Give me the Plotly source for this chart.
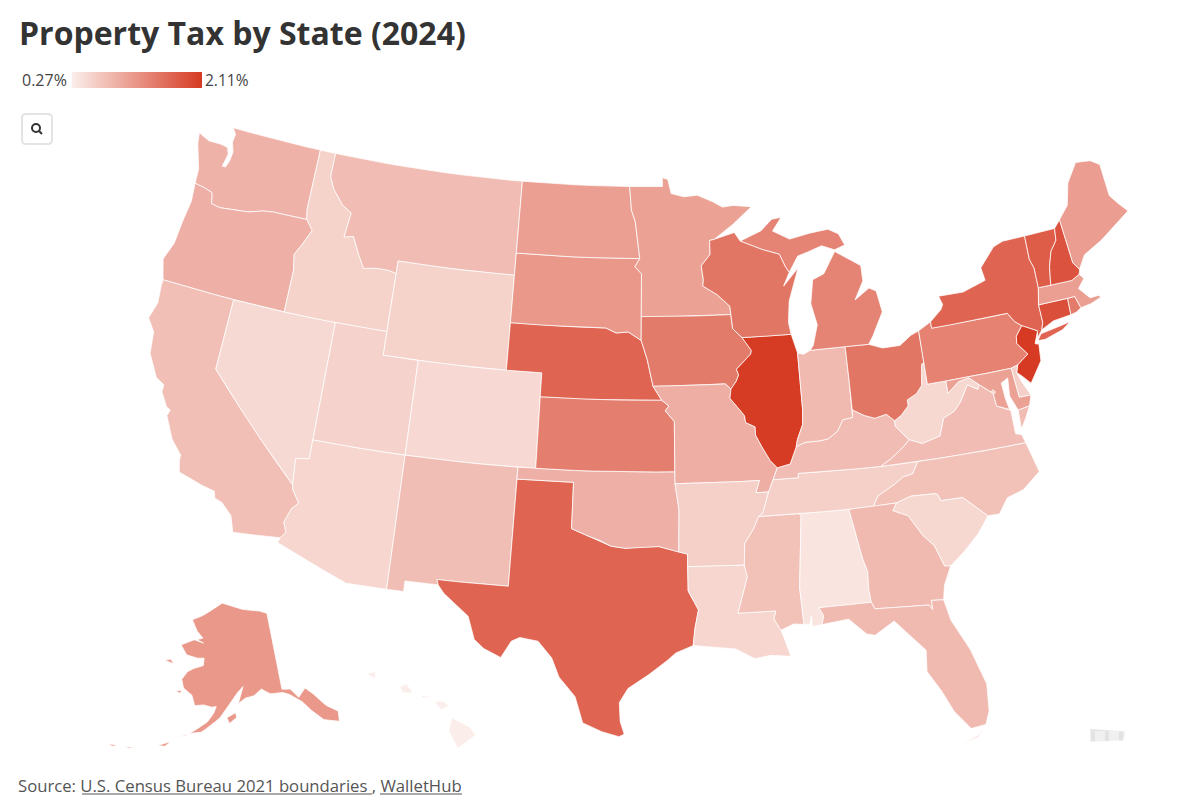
import math
import plotly.graph_objects as go

# ---- chart values (estimated from the map colours; only the legend ends are printed in the reference) ----
states = ["AL","AK","AZ","AR","CA","CO","CT","DE","DC","FL","GA","HI","ID","IL","IN","IA","KS","KY","LA","ME","MD","MA","MI","MN","MS","MO","MT","NE","NV","NH","NJ","NM","NY","NC","ND","OH","OK","OR","PA","RI","SC","SD","TN","TX","UT","VT","VA","WA","WV","WI","WY"]
rates = [0.37,1.15,0.52,0.58,0.75,0.49,1.90,0.58,0.57,0.80,0.80,0.27,0.56,2.09,0.80,1.45,1.40,0.78,0.52,1.10,1.05,1.08,1.35,1.05,0.72,0.92,0.78,1.68,0.48,1.85,2.11,0.76,1.68,0.72,1.08,1.50,0.90,0.90,1.37,1.45,0.50,1.15,0.58,1.68,0.55,1.75,0.78,0.88,0.50,1.50,0.56]
title = "Property Tax by State (2024)"
legend_low = "0.27%"
legend_high = "2.11%"
source_label = "Source: U.S. Census Bureau 2021 boundaries , WalletHub"
low_color = (251, 238, 234)
high_color = (214, 58, 34)

# ---- hand-approximated state outlines (lon, lat): no boundary data is available offline ----
OH_WV = [(-80.52,40.64),(-80.66,40.58),(-80.85,39.7),(-81.2,39.4),(-81.75,39.2),(-81.75,38.95),(-82.2,38.6),(-82.6,38.42)]
OH_KY = [(-82.6,38.42),(-83.0,38.73),(-83.65,38.63),(-84.2,38.8),(-84.82,39.1)]
IN_KY = [(-84.82,39.1),(-84.85,38.78),(-85.4,38.73),(-85.75,38.27),(-86.3,38.0),(-86.8,37.95),(-87.55,37.95),(-88.05,37.8)]
IL_KY = [(-88.05,37.8),(-88.45,37.1),(-89.15,36.98)]
MN_WI = [(-92.0,46.7),(-92.29,46.66),(-92.29,46.07),(-92.85,45.6),(-92.75,45.0),(-92.8,44.75),(-91.95,44.35),(-91.25,43.85),(-91.22,43.5)]
IA_WI = [(-91.22,43.5),(-91.15,42.9),(-90.64,42.51)]
IA_IL = [(-90.64,42.51),(-90.15,41.95),(-90.2,41.8),(-91.05,41.2),(-90.95,40.95),(-91.1,40.7),(-91.42,40.38)]
MO_IL = [(-91.42,40.38),(-91.5,40.0),(-90.75,39.25),(-90.7,38.95),(-90.2,38.75),(-90.2,38.4),(-89.9,37.9),(-89.5,37.3),(-89.15,36.98)]
AR_MS = [(-90.3,35.0),(-90.6,34.5),(-91.1,33.9),(-91.17,33.0)]
LA_MS = [(-91.17,33.0),(-91.05,32.5),(-91.6,31.0),(-89.73,31.0),(-89.85,30.67),(-89.55,30.18)]
AZ_CA = [(-114.72,32.72),(-114.5,33.0),(-114.7,33.4),(-114.45,34.0),(-114.14,34.3),(-114.57,34.8),(-114.63,35.0)]
ID_MT = [(-116.05,48.0),(-115.7,47.5),(-114.95,46.9),(-114.35,46.65),(-114.5,45.6),(-113.95,45.7),(-113.45,45.0),(-113.0,44.45),(-112.3,44.55),(-111.5,44.55),(-111.05,44.47)]
OR_ID = [(-116.92,46.0),(-116.46,45.6),(-116.85,44.95),(-117.2,44.45),(-117.03,43.8),(-117.03,42.0)]
TX_OK = [(-100.0,34.56),(-99.2,34.3),(-98.5,34.1),(-97.95,33.88),(-97.2,33.8),(-96.6,33.85),(-95.5,33.88),(-94.48,33.64)]
MO_KS = [(-94.62,37.0),(-94.61,39.1),(-95.1,39.55),(-94.9,39.75),(-95.3,40.0)]
NE_IA = [(-95.77,40.58),(-95.9,41.0),(-96.1,41.7),(-96.45,42.5)]
NE_SD = [(-96.45,42.5),(-97.2,42.85),(-97.9,42.8),(-98.5,43.0),(-104.05,43.0)]
VA_WV = [(-77.72,39.32),(-77.83,39.13),(-78.35,39.4),(-78.87,38.77),(-79.3,38.42),(-79.95,38.2),(-80.3,37.5),(-81.3,37.3),(-81.97,37.54)]
KY_VA = [(-83.68,36.6),(-83.1,36.85),(-82.3,37.3),(-81.97,37.54)]
TN_NC = [(-81.68,36.59),(-82.05,36.12),(-82.6,36.03),(-83.1,35.77),(-84.0,35.4),(-84.32,34.99)]
NC_SC = [(-83.11,35.0),(-82.3,35.2),(-81.05,35.15),(-80.93,35.1),(-80.8,34.82),(-79.67,34.8),(-78.55,33.86)]
GA_SC = [(-83.11,35.0),(-83.35,34.7),(-82.6,34.4),(-82.0,33.5),(-81.5,33.0),(-81.15,32.1),(-80.85,32.05)]
AL_GA = [(-85.6,34.98),(-85.18,32.87),(-85.0,32.3),(-85.05,31.55),(-85.0,31.0)]
FL_GA = [(-85.0,31.0),(-84.86,30.71),(-82.2,30.57),(-82.05,30.36),(-82.05,30.75),(-81.45,30.7)]
IN_IL = [(-87.53,41.7),(-87.53,39.35),(-87.6,38.7),(-87.95,38.1),(-88.05,37.8)]
WI_UP = [(-90.42,46.57),(-89.1,46.15),(-88.1,45.9),(-87.8,45.35),(-87.6,45.1)]
PA_NY = [(-79.76,42.0),(-75.35,42.0),(-75.05,41.6),(-74.7,41.36)]
PA_NJ = [(-74.7,41.36),(-75.13,40.98),(-75.2,40.68),(-74.72,40.15),(-75.4,39.8)]
VT_NH = [(-71.5,45.0),(-71.6,44.5),(-72.05,44.1),(-72.35,43.5),(-72.55,42.73)]
NY_VT = [(-73.35,45.0),(-73.4,44.0),(-73.25,43.6),(-73.28,42.75)]
MD_POT = [(-77.0,38.3),(-77.05,38.85),(-77.72,39.32)]
def r(s): return s[::-1]

outlines = {
"WA": [[(-122.76,49.0),(-122.5,48.75),(-122.55,48.4),(-122.35,48.0),(-122.4,47.6),(-122.55,47.3),(-122.75,47.3),(-122.6,47.85),(-122.75,48.12),(-123.2,48.18),(-124.0,48.17),(-124.72,48.38),(-124.6,47.9),(-124.3,47.3),(-124.1,46.9),(-124.05,46.28),(-123.4,46.2),(-122.9,46.1),(-122.75,45.65),(-122.2,45.58),(-121.2,45.65),(-120.5,45.72),(-119.6,45.92),(-119.0,45.98),(-116.92,46.0),(-117.04,46.42),(-117.04,49.0)]],
"OR": [[(-124.05,46.28),(-123.4,46.2),(-122.9,46.1),(-122.75,45.65),(-122.2,45.58),(-121.2,45.65),(-120.5,45.72),(-119.6,45.92),(-119.0,45.98)]+OR_ID+[(-124.2,42.0),(-124.55,42.84),(-124.2,43.6),(-124.1,44.6),(-123.95,45.5)]],
"CA": [[(-124.2,42.0),(-120.0,42.0),(-120.0,39.0)]+r(AZ_CA)+[(-117.12,32.53),(-117.25,32.85),(-117.4,33.2),(-118.0,33.65),(-118.4,33.75),(-118.5,34.03),(-119.2,34.15),(-120.5,34.45),(-120.65,34.95),(-120.65,35.15),(-121.3,35.7),(-121.9,36.6),(-121.8,36.85),(-122.05,36.95),(-122.5,37.5),(-122.5,37.8),(-123.0,38.0),(-123.7,38.9),(-123.85,39.8),(-124.35,40.3),(-124.1,41.0),(-124.2,41.75)]],
"NV": [[(-120.0,42.0),(-114.04,42.0),(-114.04,36.2),(-114.75,36.1),(-114.63,35.0),(-120.0,39.0)]],
"ID": [[(-117.04,49.0),(-116.05,49.0)]+ID_MT+[(-111.05,42.0),(-117.03,42.0),(-117.03,43.8),(-117.2,44.45),(-116.85,44.95),(-116.46,45.6),(-116.92,46.0),(-117.04,46.42)]],
"MT": [[(-116.05,49.0),(-104.05,49.0),(-104.05,45.0),(-111.05,45.0)]+r(ID_MT)],
"WY": [[(-111.05,45.0),(-104.05,45.0),(-104.05,41.0),(-111.05,41.0)]],
"UT": [[(-114.04,42.0),(-111.05,42.0),(-111.05,41.0),(-109.05,41.0),(-109.05,37.0),(-114.04,37.0)]],
"AZ": [[(-114.04,37.0),(-109.05,37.0),(-109.05,31.33),(-111.07,31.33),(-114.81,32.5)]+AZ_CA+[(-114.75,36.1),(-114.04,36.2)]],
"CO": [[(-109.05,41.0),(-102.05,41.0),(-102.05,37.0),(-109.05,37.0)]],
"NM": [[(-109.05,37.0),(-103.0,37.0),(-103.04,32.0),(-106.62,32.0),(-106.53,31.78),(-108.2,31.78),(-108.2,31.33),(-109.05,31.33)]],
"TX": [[(-103.0,36.5),(-100.0,36.5)]+TX_OK+[(-94.04,33.55),(-94.04,33.02),(-94.04,32.0),(-93.55,31.2),(-93.75,30.4),(-93.85,29.7),(-94.7,29.4),(-95.1,29.1),(-96.0,28.5),(-97.0,27.9),(-97.4,27.3),(-97.35,26.5),(-97.15,25.96),(-97.4,25.85),(-98.2,26.05),(-99.1,26.4),(-99.5,27.5),(-100.3,28.3),(-100.7,29.1),(-101.4,29.77),(-102.3,29.88),(-102.7,29.7),(-103.15,28.98),(-104.0,29.3),(-104.5,29.65),(-104.9,30.6),(-106.2,31.45),(-106.53,31.78),(-106.62,32.0),(-103.04,32.0)]],
"OK": [[(-103.0,37.0),(-94.62,37.0),(-94.62,36.5),(-94.43,35.4)]+r(TX_OK)+[(-100.0,36.5),(-103.0,36.5)]],
"KS": [[(-102.05,40.0),(-95.3,40.0)]+r(MO_KS)+[(-102.05,37.0)]],
"NE": [[(-104.05,43.0)]+r(NE_SD)+r(NE_IA)+[(-95.3,40.0),(-102.05,40.0),(-102.05,41.0),(-104.05,41.0)]],
"SD": [[(-104.05,45.94),(-96.56,45.94),(-96.85,45.6),(-96.45,45.3),(-96.45,43.5)]+NE_SD],
"ND": [[(-104.05,49.0),(-97.23,49.0),(-97.1,48.0),(-96.85,47.5),(-96.56,45.94),(-104.05,45.94)]],
"MN": [[(-97.23,49.0),(-95.15,49.0),(-95.15,49.38),(-94.8,49.3),(-94.6,48.7),(-93.8,48.55),(-92.95,48.6),(-92.0,48.3),(-91.4,48.05),(-90.75,48.1),(-89.6,48.0),(-90.8,47.3)]+MN_WI+[(-96.45,43.5),(-96.45,45.3),(-96.85,45.6),(-96.56,45.94),(-96.85,47.5),(-97.1,48.0)]],
"IA": [[(-96.45,43.5)]+IA_WI+IA_IL+[(-91.73,40.61)]+NE_IA],
"MO": [[(-95.77,40.58),(-91.73,40.61)]+MO_IL+[(-89.42,36.5),(-89.7,36.0),(-90.37,36.0),(-90.15,36.5),(-94.62,36.5)]+MO_KS],
"AR": [[(-94.62,36.5),(-90.15,36.5),(-90.37,36.0),(-89.7,36.0),(-90.07,35.13)]+AR_MS+[(-94.04,33.02),(-94.04,33.55),(-94.48,33.64),(-94.43,35.4)]],
"LA": [[(-94.04,33.02)]+LA_MS+[(-89.4,29.8),(-89.15,29.05),(-90.1,29.15),(-90.9,29.05),(-91.8,29.5),(-92.3,29.55),(-93.85,29.7),(-93.75,30.4),(-93.55,31.2),(-94.04,32.0)]],
"MS": [[(-90.3,35.0),(-88.2,35.0),(-88.1,34.9),(-88.47,31.9),(-88.4,30.35),(-88.9,30.4)]+r(LA_MS)+r(AR_MS)],
"AL": [[(-88.2,35.0)]+AL_GA+[(-87.6,31.0),(-87.4,30.65),(-87.52,30.28),(-88.0,30.23),(-88.0,30.7),(-88.1,30.35),(-88.4,30.35),(-88.47,31.9),(-88.1,34.9)]],
"TN": [[(-90.3,35.0),(-90.07,35.13),(-89.7,36.0),(-89.42,36.5),(-88.07,36.5),(-88.07,36.68),(-83.68,36.6)]+TN_NC+[(-85.6,34.98),(-88.2,35.0)]],
"KY": [[(-89.42,36.5),(-88.07,36.5),(-88.07,36.68)]+KY_VA+[(-82.6,38.17)]+OH_KY+IN_KY+IL_KY],
"WV": [OH_WV+[(-82.6,38.17)]+r(VA_WV)+[(-78.2,39.68),(-78.8,39.6),(-79.48,39.2),(-79.48,39.72),(-80.52,39.72)]],
"VA": [[(-83.68,36.6),(-81.68,36.59),(-75.87,36.55),(-76.0,36.92),(-76.3,37.0),(-76.3,37.55),(-76.3,38.0)]+MD_POT[:-1]+VA_WV+r(KY_VA)[1:], [(-75.25,38.03),(-75.9,37.95),(-75.95,37.15),(-75.6,37.55)]],
"NC": [[(-84.32,34.99)]+r(TN_NC)[1:]+[(-75.87,36.55),(-75.5,35.25),(-76.5,34.65),(-77.4,34.45),(-77.95,33.85)]+r(NC_SC)],
"SC": [NC_SC+[(-79.2,33.2),(-80.0,32.6)]+r(GA_SC)],
"GA": [[(-85.6,34.98),(-84.32,34.99)]+GA_SC+[(-81.3,31.3)]+r(FL_GA)+r(AL_GA)],
"FL": [[(-87.6,31.0)]+FL_GA+[(-81.25,29.8),(-80.55,28.45),(-80.05,26.9),(-80.15,25.75),(-80.4,25.2),(-81.1,25.13),(-81.75,25.95),(-82.2,26.9),(-82.75,27.8),(-82.65,28.7),(-83.4,29.5),(-84.0,30.1),(-85.0,29.6),(-85.4,29.7),(-86.2,30.4),(-87.52,30.28),(-87.4,30.65)], [(-80.4,25.15),(-80.9,24.75),(-81.7,24.55),(-80.9,24.7)]],
"IL": [[(-90.64,42.51),(-87.8,42.5)]+IN_IL+IL_KY+r(MO_IL)+r(IA_IL)],
"IN": [[(-87.53,41.7),(-87.2,41.62),(-86.8,41.76),(-84.8,41.76),(-84.8,40.4)]+IN_KY+r(IN_IL)],
"OH": [[(-84.8,41.76),(-83.45,41.73),(-82.7,41.5),(-81.7,41.5),(-81.0,41.85),(-80.52,41.98)]+OH_WV+OH_KY+[(-84.8,40.4)]],
"MI": [[(-86.8,41.76),(-84.8,41.76),(-83.45,41.73),(-83.15,42.05),(-82.42,43.0),(-82.6,43.9),(-83.0,44.07),(-83.9,43.65),(-83.3,44.4),(-83.3,45.05),(-84.75,45.78),(-85.1,45.4),(-85.55,44.9),(-86.25,44.7),(-86.5,43.7),(-86.25,42.8),(-86.6,41.95)],
       [(-90.42,46.57),(-89.1,46.95),(-88.4,47.4),(-87.8,47.45),(-88.4,46.9),(-87.4,46.5),(-86.1,46.67),(-85.0,46.75),(-84.4,46.5),(-84.1,46.0),(-84.75,45.85),(-85.5,46.08),(-86.3,45.9),(-87.0,45.75)]+r(WI_UP)[:-1]],
"WI": [[(-92.0,46.7),(-90.75,46.95)]+WI_UP+[(-88.0,44.55),(-87.05,45.25),(-87.55,44.3),(-87.75,43.9),(-87.9,43.0),(-87.8,42.5)]+r(IA_WI)+r(MN_WI)],
"PA": [[(-80.52,41.98),(-79.76,42.27)]+PA_NY+PA_NJ+[(-75.8,39.72),(-80.52,39.72),(-80.52,40.64)]],
"NY": [[(-79.76,42.27),(-79.05,42.7),(-78.9,42.9),(-79.05,43.27),(-77.6,43.25),(-76.2,43.55),(-76.3,44.1),(-75.3,44.85),(-74.7,45.0)]+NY_VT+[(-73.5,42.05),(-73.5,41.3),(-73.65,41.0),(-74.0,40.7),(-73.9,41.0)]+r(PA_NY),
       [(-74.0,40.6),(-73.75,40.85),(-72.6,40.98),(-72.0,41.05),(-72.5,40.8),(-73.6,40.58)]],
"NJ": [[(-74.7,41.36),(-73.9,41.0),(-74.2,40.5),(-74.0,40.45),(-74.1,39.75),(-74.9,38.93),(-75.3,39.3),(-75.55,39.5)]+r(PA_NJ)],
"DE": [[(-75.8,39.72),(-75.4,39.8),(-75.55,39.5),(-75.4,39.1),(-75.05,38.45),(-75.7,38.46)]],
"MD": [[(-79.48,39.72),(-75.8,39.72),(-75.7,38.46),(-75.05,38.45),(-75.25,38.03),(-75.9,37.95),(-76.2,38.6),(-76.1,39.35),(-76.5,39.2),(-76.45,38.5),(-76.35,38.05)]+MD_POT+[(-78.2,39.68),(-78.8,39.6),(-79.48,39.2)]],
"DC": [[(-77.12,38.93),(-77.04,39.0),(-76.91,38.89),(-77.04,38.79)]],
"CT": [[(-73.5,42.05),(-71.8,42.02),(-71.85,41.32),(-72.9,41.25),(-73.65,41.0),(-73.5,41.3)]],
"RI": [[(-71.8,42.02),(-71.38,42.02),(-71.2,41.5),(-71.5,41.37),(-71.85,41.32)]],
"MA": [[(-73.5,42.05),(-73.28,42.75),(-72.55,42.73),(-71.3,42.7),(-70.8,42.87),(-70.6,42.65),(-71.05,42.3),(-70.55,41.8),(-70.05,41.8),(-70.25,42.05),(-69.95,41.7),(-70.6,41.55),(-71.2,41.5),(-71.38,42.02),(-71.8,42.02)]],
"VT": [NY_VT[:1]+VT_NH+r(NY_VT)[:-1]],
"NH": [[(-71.5,45.0),(-71.08,45.3),(-70.98,43.4),(-70.7,43.07),(-70.8,42.87),(-71.3,42.7)]+r(VT_NH)],
"ME": [[(-71.08,45.3),(-70.4,45.8),(-70.0,46.7),(-69.2,47.45),(-68.3,47.35),(-67.8,47.07),(-67.8,45.7),(-67.45,45.3),(-67.0,44.85),(-68.2,44.35),(-69.0,44.0),(-70.2,43.6),(-70.7,43.07),(-70.98,43.4)]],
"AK": [[(-141.0,69.65),(-143.5,70.1),(-148.0,70.4),(-152.0,70.85),(-156.6,71.35),(-160.0,70.4),(-163.0,69.6),(-166.2,68.9),(-164.0,67.6),(-162.0,66.9),(-163.7,66.6),(-161.7,66.3),(-164.5,66.55),(-168.1,65.65),(-166.0,64.6),(-162.8,64.4),(-161.0,64.5),(-161.0,63.6),(-163.5,63.1),(-165.0,62.6),(-166.1,61.6),(-165.3,60.6),(-163.0,59.9),(-162.0,58.7),(-160.0,58.9),(-158.0,58.7),(-157.0,58.8),(-157.5,58.0),(-158.8,56.9),(-161.0,55.9),(-163.2,55.0),(-164.9,54.6),(-162.5,55.3),(-160.0,55.6),(-158.0,56.5),(-156.0,57.5),(-154.5,58.6),(-153.5,59.4),(-151.9,60.5),(-150.5,61.2),(-151.8,59.2),(-150.0,59.8),(-148.0,60.0),(-146.0,60.7),(-144.0,60.0),(-141.0,59.9),(-139.5,59.5),(-137.0,58.3),(-135.5,57.0),(-133.5,55.5),(-130.5,54.7),(-130.0,55.9),(-132.0,57.0),(-134.0,58.8),(-135.5,59.8),(-137.5,58.9),(-139.0,60.1),(-141.0,60.3)],
       [(-154.5,57.5),(-152.5,58.1),(-152.3,57.5),(-153.9,56.8)],[(-171.5,63.4),(-169.0,63.2),(-170.0,63.7)],[(-167.0,60.1),(-165.5,60.3),(-166.0,59.9)],
       [(-168.5,53.2),(-166.0,54.0),(-167.0,53.3)],[(-174.5,52.1),(-172.5,52.3),(-174.0,52.0)],[(-178.0,51.7),(-176.0,51.9),(-177.0,51.6)]],
"HI": [[(-155.9,20.25),(-155.1,19.85),(-154.85,19.5),(-155.65,18.95),(-156.05,19.7)],[(-156.7,20.95),(-156.3,20.95),(-156.0,20.75),(-156.4,20.6)],[(-158.25,21.55),(-157.95,21.7),(-157.65,21.3),(-158.1,21.3)],[(-159.75,22.1),(-159.35,22.2),(-159.35,21.9)],[(-157.3,21.2),(-156.75,21.15),(-157.2,21.08)]],
"PR": [[(-67.2,18.5),(-65.6,18.4),(-65.7,18.0),(-67.2,17.95)]],
}

# ---- layout geometry in the reference's pixels; the page adds an 8px body margin ----
W, H = 1184, 792
OFF = 8
FONT = "Open Sans"
K = 1358
def px(x): return (x - OFF) / W
def py(y): return 1 - (y - OFF) / H

def albers(lon, lat, lon0, p1, p2, lat0):
    s1, s2 = math.sin(math.radians(p1)), math.sin(math.radians(p2))
    n = (s1 + s2) / 2
    c = math.cos(math.radians(p1)) ** 2 + 2 * n * s1
    rho0 = math.sqrt(c - 2 * n * math.sin(math.radians(lat0))) / n
    rho = math.sqrt(c - 2 * n * math.sin(math.radians(lat))) / n
    th = math.radians(n * (lon - lon0))
    return rho * math.sin(th), rho0 - rho * math.cos(th)

def placer(lon0, p1, p2, lat0, scale, anchor, at):
    ax, ay = albers(anchor[0], anchor[1], lon0, p1, p2, lat0)
    return lambda lon, lat: (lambda q: (at[0] + (q[0] - ax) * scale, at[1] - (q[1] - ay) * scale))(albers(lon, lat, lon0, p1, p2, lat0))

main = placer(-96, 29.5, 45.5, 37.5, K, (-96, 37.5), (649, 460))
place = {
    "AK": placer(-154, 55, 65, 58.5, 0.35 * K, (-156.6, 71.35), (222, 603)),
    "HI": placer(-157, 8, 18, 20, K, (-155.5, 19.6), (461, 733)),
    "PR": placer(-66, 18, 18.5, 18, K, (-66.4, 18.2), (1108, 736)),
}

def ring_xy(ring, proj):
    xs, ys = [], []
    pts = ring + ring[:1]
    for (a, b), (c, d) in zip(pts[:-1], pts[1:]):
        steps = max(1, int(abs(c - a)))
        for i in range(steps):
            q = proj(a + (c - a) * i / steps, b + (d - b) * i / steps)
            xs.append(q[0]); ys.append(q[1])
    q = proj(*pts[-1]); xs.append(q[0]); ys.append(q[1])
    return xs, ys

def shade(v):
    t = (v - min(rates)) / (max(rates) - min(rates))
    return "rgb(%d,%d,%d)" % tuple(round(a + (b - a) * t) for a, b in zip(low_color, high_color))

fig = go.Figure()
values = dict(zip(states, rates))
for st, rings in outlines.items():
    proj = place.get(st, main)
    X, Y = [], []
    for ring in rings:
        xs, ys = ring_xy(ring, proj)
        X += xs + [None]; Y += ys + [None]
    if st == "PR":
        fig.add_trace(go.Scatter(x=X, y=Y, mode="lines", fill="toself", line=dict(color="white", width=0.5),
                                 fillcolor="#e6e6e6", hoverinfo="skip", showlegend=False,
                                 fillpattern=dict(shape="+", size=14, solidity=0.5, fgcolor="#d6d6d6", bgcolor="#f0f0f0")))
    else:
        fig.add_trace(go.Scatter(x=X, y=Y, mode="lines", fill="toself", line=dict(color="rgba(255,255,255,0.85)", width=0.9),
                                 fillcolor=shade(values[st]), hoveron="fills", name=st,
                                 text="%s: %.2f%%" % (st, values[st]), hoverinfo="text", showlegend=False))

fig.add_trace(go.Scatter(x=[None], y=[None], mode="markers", showlegend=False, hoverinfo="skip",
    marker=dict(color=rates, cmin=min(rates), cmax=max(rates),
                colorscale=[[0, "rgb(%d,%d,%d)" % low_color], [1, "rgb(%d,%d,%d)" % high_color]],
                colorbar=dict(orientation="h", x=px(72), xanchor="left", y=py(88), yanchor="bottom",
                              len=130, lenmode="pixels", thickness=16, thicknessmode="pixels",
                              outlinewidth=0, ticks="", showticklabels=False, xpad=0, ypad=0))))

line_c = "#555555"
def paper_line(x0, x1, y, color, width=1):
    return dict(type="line", xref="paper", yref="paper", x0=px(x0), x1=px(x1), y0=py(y), y1=py(y), line=dict(color=color, width=width))

def rounded(x0, y0, x1, y1, rad):
    a, b, c, d = px(x0), py(y0), px(x1), py(y1)
    ex, ey = rad / W, rad / H
    return (f"M {a+ex} {b} L {c-ex} {b} Q {c} {b} {c} {b-ey} L {c} {d+ey} Q {c} {d} {c-ex} {d} "
            f"L {a+ex} {d} Q {a} {d} {a} {d+ey} L {a} {b-ey} Q {a} {b} {a+ex} {b} Z")

fig.update_layout(
    width=W, height=H, margin=dict(l=0, r=0, t=0, b=0),
    paper_bgcolor="white", plot_bgcolor="white", font=dict(family=FONT, color="#333333"),
    xaxis=dict(visible=False, range=[OFF, OFF + W], fixedrange=True),
    yaxis=dict(visible=False, range=[OFF + H, OFF], fixedrange=True),
    title=dict(text="<b>" + title + "</b>", x=px(19), y=py(34), xanchor="left", yanchor="middle",
               font=dict(size=32, color="#333333", family=FONT)),
    annotations=[
        dict(text=legend_low, x=px(22), y=py(80), xref="paper", yref="paper", xanchor="left", yanchor="middle",
             xshift=-2, showarrow=False, font=dict(size=16, color="#444444")),
        dict(text=legend_high, x=px(205), y=py(80), xref="paper", yref="paper", xanchor="left", yanchor="middle",
             xshift=-2, showarrow=False, font=dict(size=15.5, color="#444444")),
        dict(text=source_label, x=px(18), y=py(785), xref="paper", yref="paper", xanchor="left", yanchor="middle",
             xshift=-2, showarrow=False, font=dict(size=16.7, color="#555555")),
    ],
    shapes=[
        dict(type="path", xref="paper", yref="paper", path=rounded(22, 114, 52, 144, 4),
             line=dict(color="#e4e4e4", width=2), fillcolor="white"),
        dict(type="circle", xref="paper", yref="paper", x0=px(32), x1=px(40), y0=py(124), y1=py(132),
             line=dict(color="#333333", width=2)),
        dict(type="line", xref="paper", yref="paper", x0=px(39), x1=px(42), y0=py(131), y1=py(134),
             line=dict(color="#333333", width=2)),
        paper_line(82, 372, 794, line_c),
        paper_line(380, 462, 794, line_c),
    ],
)
fig.write_html("out.html")
